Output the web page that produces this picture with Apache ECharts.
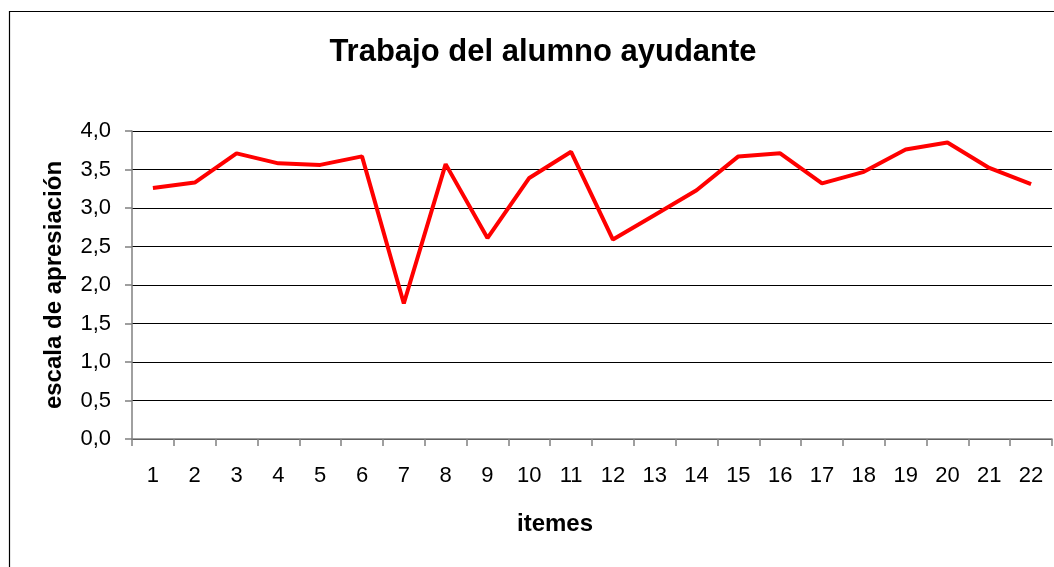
<!DOCTYPE html>
<html>
<head>
<meta charset="utf-8">
<script src="https://cdn.jsdelivr.net/npm/echarts@6/dist/echarts.min.js"></script>
<style>
  html, body { margin: 0; padding: 0; background: #fff; }
  #main { width: 1054px; height: 567px; }
</style>
</head>
<body>
<div id="main"></div>
<script>
// items 1..22
var itemes = ["1", "2", "3", "4", "5", "6", "7", "8", "9", "10", "11",
  "12", "13", "14", "15", "16", "17", "18", "19", "20", "21", "22"];
var apreciacion = [3.26, 3.33, 3.71, 3.58, 3.56, 3.67, 1.76, 3.57, 2.61, 3.39, 3.73,
  2.59, 2.91, 3.23, 3.67, 3.71, 3.32, 3.47, 3.76, 3.85, 3.52, 3.31];

var chart = echarts.init(document.getElementById("main"));
var font = "Liberation Sans, Arial, sans-serif";

var option = {
  animation: false,
  backgroundColor: "#fff",
  title: [
    {
      text: "Trabajo del alumno ayudante",
      left: 538,
      top: 32,
      textAlign: "center",
      textStyle: { fontFamily: font, fontSize: 31, fontWeight: "bold", color: "#000" },
    },
    {
      text: "itemes",
      left: 550,
      top: 507,
      textAlign: "center",
      textStyle: { fontFamily: font, fontSize: 24, fontWeight: "bold", color: "#000" },
    },
  ],
  graphic: [
    {
      type: "rect",
      shape: { x: 9.5, y: 11.5, width: 1100, height: 600 },
      style: { fill: "none", stroke: "#000", lineWidth: 1.2 },
      silent: true,
    },
  ],
  grid: { left: 132, right: 2, top: 131, bottom: 128, containLabel: false },
  xAxis: {
    type: "category",
    data: itemes,
    boundaryGap: true,
    axisLine: { lineStyle: { color: "#808080", width: 1.5 } },
    axisTick: { show: true, length: 7, interval: 0, lineStyle: { color: "#808080", width: 1.5 } },
    axisLabel: { interval: 0, margin: 26, fontFamily: font, fontSize: 22, color: "#000" },
    splitLine: { show: false },
  },
  yAxis: {
    type: "value",
    min: 0,
    max: 4,
    interval: 0.5,
    name: "escala de apresiación",
    nameLocation: "middle",
    nameGap: 66,
    nameTextStyle: { fontFamily: font, fontSize: 24, fontWeight: "bold", color: "#000" },
    axisLine: { show: true, lineStyle: { color: "#808080", width: 1.5 } },
    axisTick: { show: true, length: 7, lineStyle: { color: "#808080", width: 1.5 } },
    axisLabel: {
      margin: 21,
      fontFamily: font,
      fontSize: 22,
      color: "#000",
      formatter: function (v) { return v.toFixed(1).replace(".", ","); },
    },
    splitLine: { show: true, lineStyle: { color: "#000", width: 1 } },
  },
  series: [
    {
      type: "line",
      data: apreciacion,
      symbol: "none",
      lineStyle: { color: "#ff0000", width: 4 },
    },
  ],
};

chart.setOption(option);
</script>
</body>
</html>
